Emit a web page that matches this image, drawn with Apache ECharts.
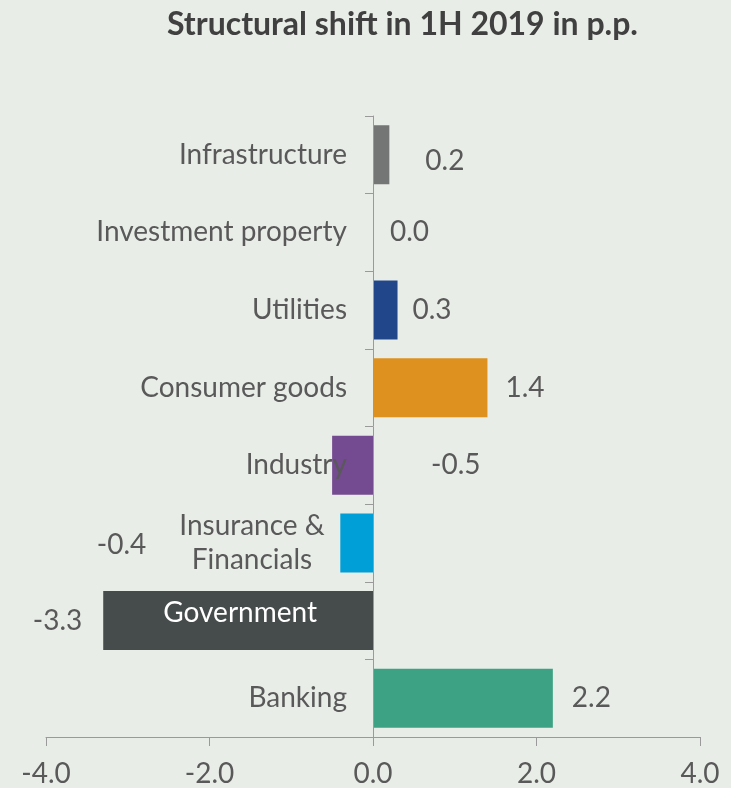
<!DOCTYPE html>
<html>
<head>
<meta charset="utf-8">
<script src="https://cdn.jsdelivr.net/npm/echarts@6/dist/echarts.min.js"></script>
<style>
  html, body { margin: 0; padding: 0; background: #e8ede7; }
  #chart { width: 731px; height: 788px; }
</style>
</head>
<body>
<div id="chart"></div>
<script>
// Sectors, top to bottom
const sectors = ['Infrastructure', 'Investment property', 'Utilities', 'Consumer goods',
  'Industry', 'Insurance & Financials', 'Government', 'Banking'];
// Change in share, percentage points
const shiftPP = [0.2, 0.0, 0.3, 1.4, -0.5, -0.4, -3.3, 2.2];
const barColors = ['#737674', '#737674', '#22468a', '#df9120', '#744a90', '#009fd8', '#464b4c', '#3da283'];
const xTicks = [-4, -2, 0, 2, 4];

// Per-bar value label placement
const labelPlacement = [
  { position: 'right', distance: 36, offset: [0, 6] },
  { position: 'right', distance: 17 },
  { position: 'right', distance: 15 },
  { position: 'right', distance: 18 },
  { position: 'right', distance: 58 },
  { position: 'left', distance: 194, offset: [0, 2] },
  { position: 'left', distance: 21 },
  { position: 'right', distance: 19 }
];

const FONT = 'Lato, "Open Sans", sans-serif';
const TXT = '#595959';
const FS = 28;

const W = 731, H = 788;
const grid = { left: 46, right: 31, top: 116, bottom: 51 };
const xMin = xTicks[0], xMax = xTicks[xTicks.length - 1];
// shift the category axis (line, ticks, labels) onto x = 0
const zeroShift = (W - grid.left - grid.right) * (0 - xMin) / (xMax - xMin);

const chart = echarts.init(document.getElementById('chart'));
chart.setOption({
  backgroundColor: '#e8ede7',
  animation: false,
  title: {
    text: 'Structural shift in 1H 2019 in p.p.',
    left: 162,
    top: 4,
    textStyle: { fontFamily: FONT, fontWeight: 'bold', fontSize: 32, color: '#404040' }
  },
  grid: Object.assign({ containLabel: false, outerBoundsMode: 'none' }, grid),
  xAxis: {
    type: 'value',
    min: xMin,
    max: xMax,
    interval: 2,
    axisLine: { show: true, onZero: false, lineStyle: { color: '#9a9a9a', width: 1 } },
    axisTick: { show: true, length: 9, lineStyle: { color: '#9a9a9a' } },
    splitLine: { show: false },
    axisLabel: {
      margin: 23,
      fontFamily: FONT, fontSize: FS, color: TXT,
      formatter: v => v.toFixed(1)
    }
  },
  yAxis: {
    type: 'category',
    inverse: true,
    position: 'left',
    offset: -zeroShift,
    z: 5,
    data: sectors,
    axisLine: { show: true, onZero: false, lineStyle: { color: '#9a9a9a', width: 1 } },
    axisTick: { show: true, length: 8, lineStyle: { color: '#9a9a9a' } },
    axisLabel: {
      interval: 0,
      margin: 26,
      fontFamily: FONT, fontSize: FS, color: TXT,
      formatter: function (v) {
        if (v === 'Government') return '{gov|' + v + '}';
        if (v === 'Insurance & Financials') return '{ins|Insurance &}\n{ins|Financials}';
        return v;
      },
      rich: {
        gov: { color: '#ffffff', fontFamily: FONT, fontSize: FS, padding: [0, 30, 16, 0] },
        ins: { color: TXT, fontFamily: FONT, fontSize: FS, width: 190, align: 'center', lineHeight: 34 }
      }
    }
  },
  series: [{
    type: 'bar',
    barCategoryGap: '24%',
    z: 1,
    data: shiftPP.map((v, i) => ({
      value: v,
      itemStyle: { color: barColors[i] },
      label: Object.assign({ show: true }, labelPlacement[i])
    })),
    label: {
      show: true,
      fontFamily: FONT, fontSize: FS, color: TXT,
      formatter: p => p.value.toFixed(1)
    }
  }]
});
</script>
</body>
</html>
